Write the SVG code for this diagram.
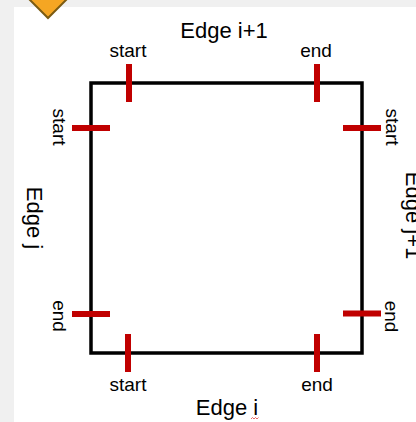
<svg xmlns="http://www.w3.org/2000/svg" width="416" height="422" viewBox="0 0 416 422">
<style>
.lbl{font-family:"Liberation Sans",Arial,sans-serif;fill:#000;text-anchor:middle}
.sm{font-size:19px}
.big{font-size:22px}
.tick{stroke:#c00000;stroke-width:6;fill:none}
</style>
<rect x="0" y="0" width="416" height="422" fill="#f0f0f0"/>
<rect x="14" y="7" width="402" height="415" fill="#ffffff"/>
<polygon points="48,-22 68,-2 48,18 28,-2" fill="#f5a623" stroke="#7b5b12" stroke-width="2"/>
<g id="square">
<rect x="91" y="83" width="271" height="270" fill="none" stroke="#000" stroke-width="3.5"/>
</g>
<g id="connectors">
<line class="tick" x1="129" y1="64" x2="129" y2="102"/>
<line class="tick" x1="317" y1="64" x2="317" y2="102"/>
<line class="tick" x1="72" y1="128" x2="110" y2="128"/>
<line class="tick" x1="343" y1="128" x2="381" y2="128"/>
<line class="tick" x1="72" y1="314" x2="110" y2="314"/>
<line class="tick" x1="343" y1="313.5" x2="381" y2="313.5"/>
<line class="tick" x1="128" y1="334" x2="128" y2="372"/>
<line class="tick" x1="317" y1="334" x2="317" y2="372"/>
</g>
<g id="top-labels">
<text class="lbl big" x="224" y="38">Edge i+1</text>
<text class="lbl sm" x="128" y="57">start</text>
<text class="lbl sm" x="316" y="57">end</text>
</g>
<g id="bottom-labels">
<text class="lbl sm" x="128" y="391">start</text>
<text class="lbl sm" x="317" y="391">end</text>
<text class="lbl big" x="227" y="415">Edge i</text>
<path d="M251,419 l1.5,-1.5 l1.5,1.5 l1.5,-1.5 l1.5,1.5 l1.5,-1.5" fill="none" stroke="#e04040" stroke-width="0.8"/>
</g>
<g id="left-labels">
<text class="lbl sm" transform="translate(53,127) rotate(90)">start</text>
<text class="lbl sm" transform="translate(52.5,316) rotate(90)">end</text>
<text class="lbl big" transform="translate(27,218) rotate(90)">Edge j</text>
</g>
<g id="right-labels">
<text class="lbl sm" transform="translate(386,127) rotate(90)">start</text>
<text class="lbl sm" transform="translate(384.5,316.5) rotate(90)">end</text>
<text class="lbl big" transform="translate(406,215.5) rotate(90)">Edge j+1</text>
</g>
</svg>
